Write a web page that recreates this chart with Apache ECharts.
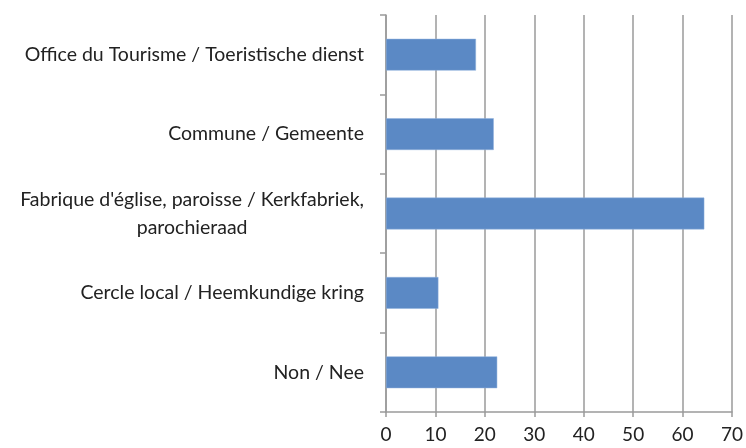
<!DOCTYPE html>
<html>
<head>
<meta charset="utf-8">
<script src="https://cdn.jsdelivr.net/npm/echarts@6/dist/echarts.min.js"></script>
<style>
  html, body { margin: 0; padding: 0; background: #fff; }
  #chart { width: 746px; height: 448px; }
</style>
</head>
<body>
<div id="chart"></div>
<script>
const categories = [
  'Office du Tourisme / Toeristische dienst',
  'Commune / Gemeente',
  "Fabrique d'église, paroisse / Kerkfabriek,\nparochieraad",
  'Cercle local / Heemkundige kring',
  'Non / Nee'
];
const values = [18.2, 21.8, 64.4, 10.6, 22.5];
const xTicks = { min: 0, max: 70, interval: 10 };

const axisGray = '#9a9a9a';
const myChart = echarts.init(document.getElementById('chart'));
const option = {
  animation: false,
  textStyle: { fontFamily: 'Lato, "Open Sans", sans-serif' },
  grid: { left: 386, right: 11, top: 15, bottom: 36 },
  xAxis: {
    type: 'value',
    min: xTicks.min,
    max: xTicks.max,
    interval: xTicks.interval,
    axisLine: { show: true, lineStyle: { color: axisGray, width: 1.5 } },
    axisTick: { show: true, length: 5, lineStyle: { color: axisGray, width: 1.5 } },
    splitLine: { show: true, lineStyle: { color: axisGray, width: 1.5 } },
    axisLabel: { color: '#222', fontSize: 19, margin: 13 }
  },
  yAxis: {
    type: 'category',
    data: categories,
    inverse: true,
    axisLine: { show: true, lineStyle: { color: axisGray, width: 1.5 } },
    axisTick: { show: true, length: 6, lineStyle: { color: axisGray, width: 1.5 } },
    axisLabel: {
      color: '#222',
      fontSize: 19.5,
      margin: 22,
      align: 'right',
      formatter: v => v.split('\n').map(s => '{c|' + s + '}').join('\n'),
      rich: { c: { align: 'center', fontSize: 19.5, color: '#222', lineHeight: 28 } }
    }
  },
  series: [
    {
      type: 'bar',
      data: values,
      barWidth: '40%',
      itemStyle: { color: '#5b89c5', borderColor: '#8fb0dc', borderWidth: 0.5 }
    }
  ]
};
myChart.setOption(option);
</script>
</body>
</html>
